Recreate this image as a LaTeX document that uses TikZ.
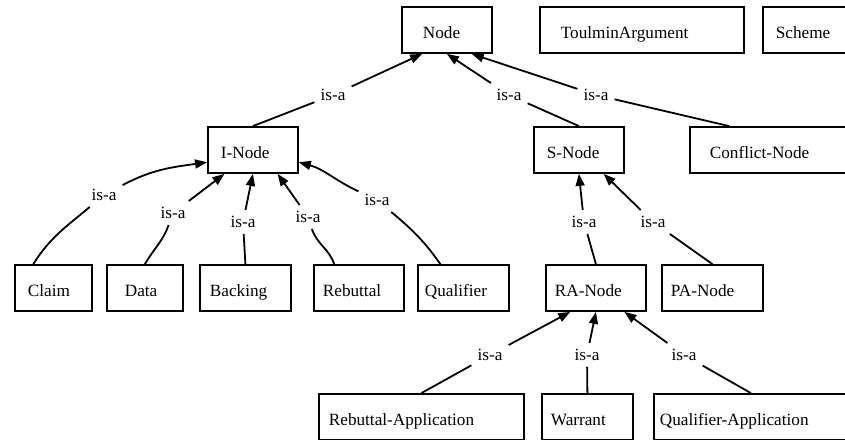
\documentclass[tikz,border=0pt]{standalone}
\usepackage{fontspec}
\setmainfont{Liberation Serif}
\usetikzlibrary{arrows.meta}

\begin{document}
\begin{tikzpicture}[x=1pt,y=1pt,
	cls/.style={draw, line width=1.8pt, anchor=west, minimum height=46pt, inner ysep=0pt, text height=17pt, text depth=0pt, align=left, font=\fontsize{17.2}{20}\selectfont},
	isa/.style={inner sep=6pt, font=\fontsize{17.2}{20}\selectfont},
	link/.style={line width=1.8pt},
	islink/.style={line width=1.8pt, -{Triangle[length=12pt,width=9pt]}}]
	\useasboundingbox (0,0) rectangle (845,439);
	\node[cls, inner xsep=21pt, text width=48pt] (node) at (401,409) {Node};
	\node[cls, inner xsep=21pt, text width=162pt] (toulmin) at (539,409) {ToulminArgument};
	\node[cls, inner xsep=13pt, text width=59pt] (scheme) at (762,409) {Scheme};
	\node[cls, inner xsep=13pt, text width=64pt] (inode) at (207,289) {I-Node};
	\node[cls, inner xsep=13pt, text width=64pt] (snode) at (533,289) {S-Node};
	\node[cls, inner xsep=20pt, text width=118pt] (conflict) at (689,289) {Conflict-Node};
	\node[cls, inner xsep=13pt, text width=51pt] (claim) at (14,151) {Claim};
	\node[cls, inner xsep=18pt, text width=40pt] (data) at (106,151) {Data};
	\node[cls, inner xsep=10pt, text width=71pt] (backing) at (199,151) {Backing};
	\node[cls, inner xsep=9pt, text width=72pt] (rebuttal) at (313,151) {Rebuttal};
	\node[cls, inner xsep=7pt, text width=77pt] (qualifier) at (417,151) {Qualifier};
	\node[cls, inner xsep=9pt, text width=82pt] (ranode) at (545,151) {RA-Node};
	\node[cls, inner xsep=9pt, text width=83pt] (panode) at (661,151) {PA-Node};
	\node[cls, inner xsep=10pt, text width=185pt] (rebapp) at (318,22) {Rebuttal-Application};
	\node[cls, inner xsep=9pt, text width=73pt] (warrant) at (541,22) {Warrant};
	\node[cls, inner xsep=6pt, text width=182pt] (qualapp) at (653,22) {Qualifier-Application};

	\node[isa] (isa1) at (333,344) {is-a};
	\node[isa] (isa2) at (509,344) {is-a};
	\node[isa] (isa3) at (596,344) {is-a};
	\node[isa] (isa4) at (104,244) {is-a};
	\node[isa] (isa5) at (173,226) {is-a};
	\node[isa] (isa6) at (243,217) {is-a};
	\node[isa] (isa7) at (308,222) {is-a};
	\node[isa] (isa8) at (377,239) {is-a};
	\node[isa] (isa9) at (584,217) {is-a};
	\node[isa] (isa10) at (653,217) {is-a};
	\node[isa] (isa11) at (490,84) {is-a};
	\node[isa] (isa12) at (587,84) {is-a};
	\node[isa] (isa13) at (684,84) {is-a};

	\draw[link] (inode.north) -- (isa1);
	\draw[islink] (isa1) -- (node.224);
	\draw[link] (snode.north) -- (isa2);
	\draw[islink] (isa2) -- (node.south);
	\draw[link] (conflict.149) -- (isa3);
	\draw[islink] (isa3) -- (node.316);

	\draw[link] (claim.130) to[out=58,in=220] (isa4);
	\draw[islink] (isa4) to[out=28,in=188] (inode.195);
	\draw[link] (data.north) to[out=60,in=250] (isa5);
	\draw[islink] (isa5) -- (inode.220);
	\draw[link] (backing.north) -- (isa6);
	\draw[islink] (isa6) -- (inode.south);
	\draw[link] (rebuttal.136) to[out=108,in=-72] (isa7);
	\draw[islink] (isa7) -- (inode.316);
	\draw[link] (qualifier.134) to[out=125,in=-40] (isa8);
	\draw[islink] (isa8) to[out=155,in=-15] (inode.345);

	\draw[link] (ranode.north) -- (isa9);
	\draw[islink] (isa9) -- (snode.south);
	\draw[link] (panode.north) -- (isa10);
	\draw[islink] (isa10) -- (snode.316);

	\draw[link] (rebapp.north) -- (isa11);
	\draw[islink] (isa11) -- (ranode.223);
	\draw[link] (warrant.north) -- (isa12);
	\draw[islink] (isa12) -- (ranode.south);
	\draw[link] (qualapp.north) -- (isa13);
	\draw[islink] (isa13) -- (ranode.320);
\end{tikzpicture}
\end{document}
